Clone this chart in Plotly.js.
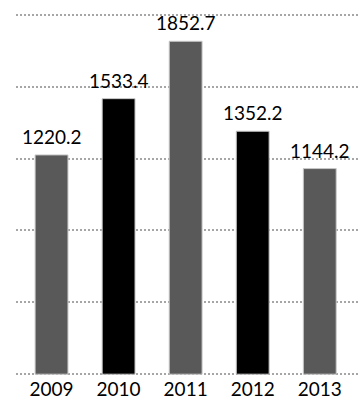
<!DOCTYPE html>
<html>
<head>
<meta charset="utf-8">
<script src="https://cdn.plot.ly/plotly-3.0.1.min.js"></script>
<style>html,body{margin:0;padding:0;background:#fff;}#chart{width:360px;height:400px;}</style>
</head>
<body>
<div id="chart"></div>
<script>
var years = ["2009", "2010", "2011", "2012", "2013"];
var values = [1220.2, 1533.4, 1852.7, 1352.2, 1144.2];
var barColors = ["#595959", "#000000", "#595959", "#000000", "#595959"];

var labelFont = {family: "Lato, 'Open Sans', sans-serif", size: 19, color: "#000"};

var trace = {
  type: "bar",
  x: years,
  y: values,
  marker: {color: barColors, line: {color: "#c8c8c8", width: 1}},
  hoverinfo: "none"
};

var annotations = years.map(function (yr, i) {
  return {
    x: i,
    y: values[i],
    xref: "x",
    yref: "y",
    text: values[i].toFixed(1),
    showarrow: false,
    xanchor: "center",
    yanchor: "bottom",
    yshift: 5,
    font: labelFont
  };
});

var layout = {
  width: 360,
  height: 400,
  margin: {l: 16, r: 0, t: 13, b: 24},
  paper_bgcolor: "#ffffff",
  plot_bgcolor: "#ffffff",
  showlegend: false,
  bargap: 0.51,
  annotations: annotations,
  xaxis: {
    type: "category",
    range: [-0.53, 4.6],
    showgrid: false,
    zeroline: false,
    showline: false,
    ticks: "",
    tickfont: labelFont,
    fixedrange: true
  },
  yaxis: {
    range: [-10, 2010],
    dtick: 400,
    tick0: 0,
    showgrid: true,
    gridcolor: "#a6a6a6",
    gridwidth: 2,
    griddash: "2px,2px",
    zeroline: false,
    showline: false,
    showticklabels: false,
    ticks: "",
    fixedrange: true
  }
};

Plotly.newPlot("chart", [trace], layout, {staticPlot: true, displayModeBar: false});
</script>
</body>
</html>
